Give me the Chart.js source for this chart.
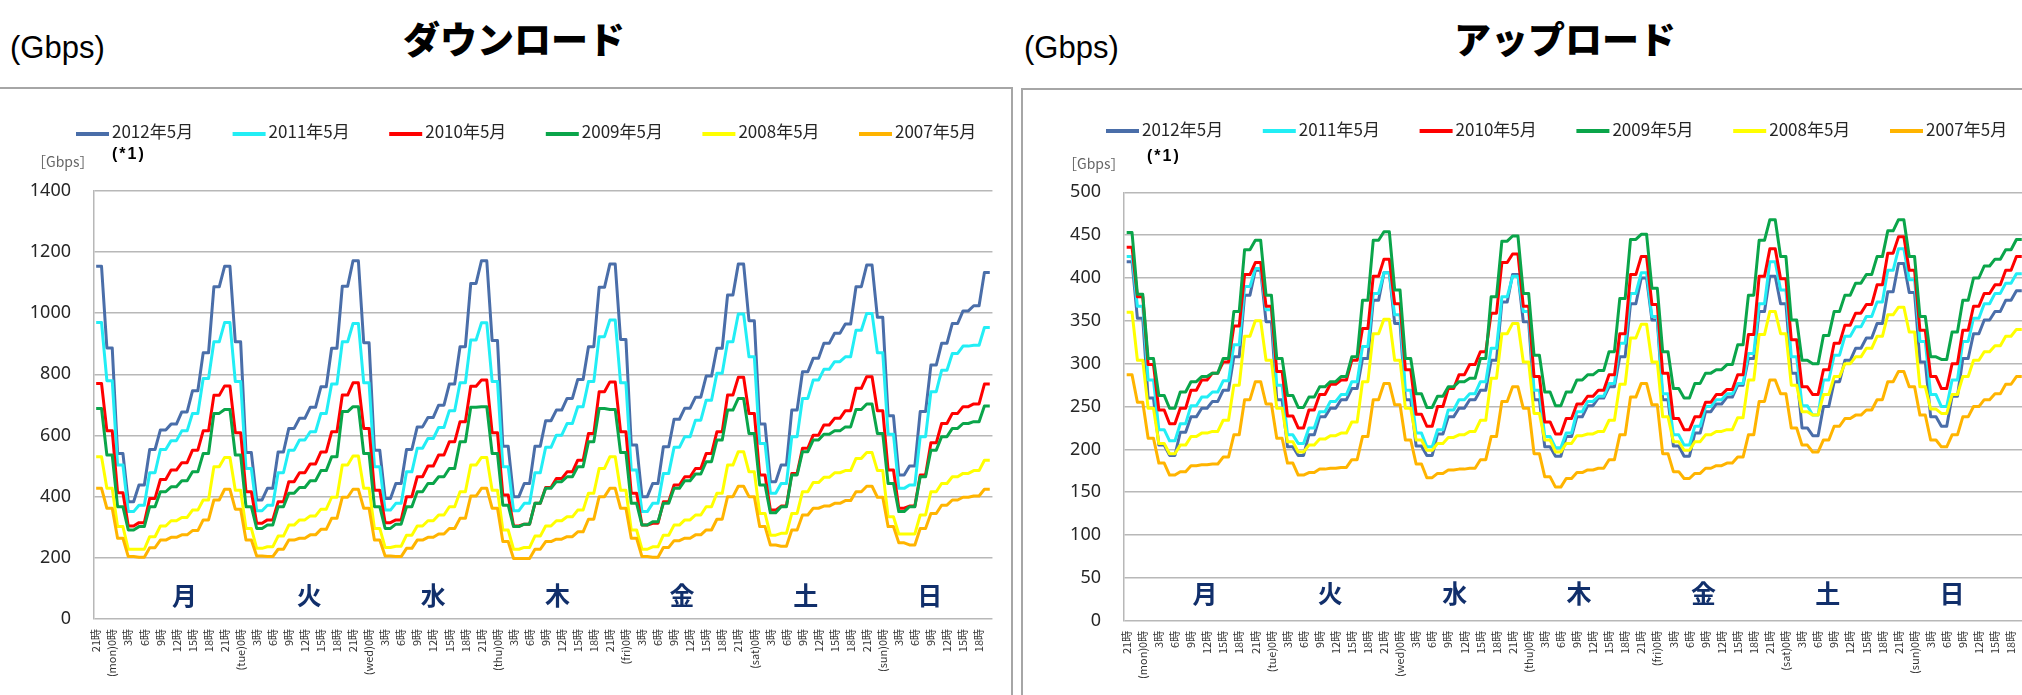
<!DOCTYPE html>
<html><head><meta charset="utf-8">
<script src="https://cdn.jsdelivr.net/npm/chart.js@4.4.1/dist/chart.umd.min.js"></script>
<style>
html,body{margin:0;padding:0;width:2022px;height:695px;overflow:hidden;background:#fff;}
body{position:relative;}
.t{position:absolute;white-space:nowrap;line-height:1;color:#000;}
.ln{position:absolute;background:#a6a6a6;}
canvas{position:absolute;top:0;}
</style></head><body>
<div class="t" style="left:10px;top:30px;font:31px 'Liberation Sans',Arial,sans-serif;">(Gbps)</div>
<div class="t" style="left:314px;width:400px;text-align:center;top:11px;font:900 37px 'Noto Sans CJK JP',sans-serif;">ダウンロード</div>
<div class="t" style="left:1024px;top:30px;font:31px 'Liberation Sans',Arial,sans-serif;">(Gbps)</div>
<div class="t" style="left:1365px;width:400px;text-align:center;top:11px;font:900 37px 'Noto Sans CJK JP',sans-serif;">アップロード</div>
<div class="ln" style="left:0;top:87px;width:1013px;height:2px;"></div>
<div class="ln" style="left:1011px;top:87px;width:2px;height:608px;"></div>
<div class="ln" style="left:1021px;top:88px;width:1001px;height:2px;"></div>
<div class="ln" style="left:1021px;top:88px;width:2px;height:607px;"></div>
<canvas id="cDown" width="1013" height="695" style="left:0;"></canvas>
<canvas id="cUp" width="1032" height="695" style="left:1013px;"></canvas>
<div class="t" style="left:112px;top:145px;font:bold 16px 'Liberation Sans',Arial,sans-serif;letter-spacing:2px;">(*1)</div>
<div class="t" style="left:1147px;top:147px;font:bold 16px 'Liberation Sans',Arial,sans-serif;letter-spacing:2px;">(*1)</div>
<div class="t" style="left:32px;top:151px;font:14px 'Noto Sans CJK JP',sans-serif;color:#666;">［Gbps］</div>
<div class="t" style="left:1063px;top:153px;font:14px 'Noto Sans CJK JP',sans-serif;color:#666;">［Gbps］</div>
<script>
// ---------- data ----------
const seriesNames = ['2012年5月', '2011年5月', '2010年5月', '2009年5月', '2008年5月', '2007年5月'];
const seriesColors = ['#4a6ea9', '#22eef5', '#ff0000', '#0aa54a', '#ffff00', '#ffb400'];
const dayNames = ['月', '火', '水', '木', '金', '土', '日'];
const dayTags = ['mon', 'tue', 'wed', 'thu', 'fri', 'sat', 'sun'];
// hourly categories: from 21時 (day before mon) to 20時 sun
const hourOfIndex = [];
for (let i = 0; i < 168; i++) hourOfIndex.push((21 + i) % 24);
const categories = hourOfIndex.map((h, i) => {
  if (h === 0) return '(' + dayTags[Math.floor((i - 3) / 24)] + ')0時';
  return h + '時';
});
const tickLabels = categories.map((c, i) => (i % 3 === 0 ? c : ''));

// Download (Gbps)
const down2012 = [
1153,1153,886,886,541,541,383,383,438,438,554,554,618,618,637,637,677,677,746,746,870,870,1086,1086,
1153,1153,906,906,544,544,389,389,427,427,546,546,623,623,656,656,692,692,759,759,885,885,1088,1088,
1171,1171,903,903,552,552,394,394,443,443,554,554,628,628,659,659,699,699,768,768,890,890,1097,1097,
1171,1171,910,910,565,565,400,400,443,443,565,565,648,648,683,683,721,721,783,783,890,890,1084,1084,
1160,1160,914,914,569,569,400,400,443,443,563,563,653,653,689,689,725,725,794,794,885,885,1059,1059,
1160,1160,975,975,637,637,449,449,503,503,683,683,808,808,852,852,901,901,934,934,964,964,1086,1086,
1157,1157,986,986,664,664,471,471,500,500,678,678,830,830,901,901,966,966,1007,1007,1024,1024,1133,1133];
const down2011 = [
969,969,779,779,503,503,351,351,372,372,478,478,554,554,583,583,615,615,672,672,786,786,906,906,
969,969,776,776,492,492,354,354,372,372,478,478,552,552,585,585,612,612,672,672,768,768,906,906,
966,966,772,772,498,498,356,356,378,378,481,481,558,558,590,590,626,626,681,681,772,772,912,912,
968,968,776,776,498,498,354,354,378,378,478,478,561,561,601,601,639,639,694,694,776,776,923,923,
977,977,772,772,487,487,351,351,378,378,476,476,561,561,596,596,650,650,715,715,803,803,906,906,
997,997,857,857,574,574,411,411,443,443,596,596,721,721,781,781,816,816,841,841,857,857,944,944,
999,999,870,870,604,604,427,427,438,438,596,596,743,743,813,813,868,868,892,892,895,895,953,953];
const down2010 = [
770,770,615,615,413,413,304,304,315,315,394,394,456,456,487,487,511,511,552,552,615,615,731,731,
762,762,609,609,416,416,313,313,324,324,383,383,449,449,478,478,507,507,546,546,612,612,732,732,
772,772,623,623,421,421,315,315,324,324,400,400,465,465,500,500,536,536,579,579,645,645,761,761,
781,781,609,609,405,405,304,304,310,310,378,378,430,430,459,459,481,481,519,519,606,606,743,743,
775,775,612,612,411,411,307,307,313,313,383,383,438,438,465,465,492,492,541,541,612,612,732,732,
790,790,672,672,471,471,356,356,369,369,476,476,558,558,601,601,634,634,656,656,681,681,754,754,
792,792,681,681,487,487,362,362,369,369,471,471,576,576,639,639,672,672,694,694,703,703,768,768];
const down2009 = [
688,688,536,536,367,367,291,291,302,302,367,367,416,416,432,432,452,452,481,481,541,541,672,672,
685,685,536,536,367,367,296,296,307,307,367,367,411,411,430,430,452,452,485,485,530,530,678,678,
694,694,541,541,367,367,296,296,310,310,367,367,416,416,443,443,465,465,492,492,579,579,692,692,
694,694,541,541,372,372,302,302,310,310,378,378,427,427,449,449,465,465,498,498,579,579,688,688,
685,685,544,544,378,378,307,307,318,318,378,378,427,427,452,452,474,474,514,514,585,585,683,683,
721,721,606,606,438,438,347,347,367,367,471,471,547,547,585,585,604,604,615,615,628,628,685,685,
703,703,606,606,443,443,351,351,367,367,465,465,552,552,596,596,623,623,639,639,645,645,696,696];
const down2008 = [
530,530,427,427,302,302,228,228,228,228,269,269,304,304,321,321,332,332,356,356,389,389,498,498,
528,528,421,421,296,296,231,231,236,236,271,271,307,307,324,324,337,337,359,359,398,398,503,503,
533,533,427,427,296,296,234,234,238,238,274,274,304,304,321,321,340,340,367,367,416,416,503,503,
528,528,421,421,291,291,228,228,234,234,271,271,304,304,321,321,334,334,356,356,411,411,492,492,
530,530,421,421,291,291,228,228,236,236,274,274,307,307,324,324,340,340,367,367,411,411,503,503,
547,547,481,481,345,345,274,274,280,280,345,345,416,416,446,446,463,463,478,478,485,485,525,525,
544,544,485,485,334,334,278,278,278,278,340,340,416,416,443,443,465,465,476,476,485,485,519,519];
const down2007 = [
427,427,362,362,264,264,204,204,202,202,233,233,258,258,267,267,275,275,289,289,324,324,389,389,
424,424,359,359,258,258,206,206,204,204,228,228,258,258,264,264,275,275,293,293,329,329,398,398,
424,424,362,362,258,258,206,206,204,204,231,231,258,258,267,267,278,278,296,296,329,329,402,402,
427,427,362,362,253,253,198,198,198,198,228,228,253,253,261,261,269,269,285,285,326,326,400,400,
427,427,362,362,264,264,204,204,202,202,234,234,256,256,264,264,275,275,291,291,326,326,400,400,
434,434,400,400,302,302,242,242,238,238,291,291,340,340,362,362,369,369,378,378,387,387,416,416,
434,434,398,398,302,302,249,249,242,242,296,296,345,345,372,372,389,389,398,398,402,402,424,424];

// Upload (Gbps)
const up2012 = [
419,419,353,353,260,260,205,205,193,193,220,220,238,238,248,248,256,256,269,269,308,308,380,380,
409,409,349,349,258,258,203,203,193,193,217,217,238,238,248,248,258,258,271,271,306,306,374,374,
406,406,347,347,258,258,204,204,193,193,218,218,238,238,248,248,258,258,269,269,304,304,372,372,
404,404,349,349,258,258,203,203,192,192,215,215,238,238,251,251,260,260,273,273,308,308,370,370,
400,400,351,351,258,258,204,204,192,192,219,219,244,244,253,253,261,261,275,275,306,306,361,361,
402,402,370,370,289,289,225,225,216,216,250,250,279,279,304,304,318,318,330,330,347,347,384,384,
417,417,383,383,302,302,238,238,227,227,262,262,306,306,335,335,351,351,361,361,374,374,385,385];
const up2011 = [
425,425,367,367,281,281,223,223,210,210,230,230,251,251,261,261,267,267,280,280,322,322,390,390,
411,411,363,363,275,275,217,217,207,207,225,225,244,244,256,256,264,264,279,279,320,320,382,382,
406,406,357,357,269,269,219,219,203,203,223,223,246,246,258,258,265,265,279,279,318,318,378,378,
402,402,361,361,269,269,215,215,202,202,219,219,244,244,256,256,262,262,277,277,324,324,382,382,
406,406,355,355,265,265,217,217,205,205,227,227,250,250,258,258,265,265,277,277,312,312,370,370,
419,419,386,386,308,308,251,251,240,240,281,281,310,310,332,332,343,343,355,355,372,372,409,409,
434,434,398,398,326,326,264,264,250,250,281,281,326,326,353,353,370,370,382,382,394,394,405,405];
const up2010 = [
436,436,378,378,299,299,246,246,230,230,248,248,269,269,281,281,289,289,302,302,344,344,404,404,
418,418,367,367,291,291,239,239,225,225,246,246,264,264,276,276,281,281,304,304,341,341,402,402,
422,422,370,370,293,293,241,241,227,227,250,250,271,271,287,287,299,299,314,314,359,359,418,418,
428,428,367,367,285,285,232,232,218,218,236,236,253,253,262,262,269,269,287,287,335,335,404,404,
425,425,369,369,289,289,236,236,223,223,238,238,255,255,264,264,270,270,287,287,334,334,402,402,
434,434,399,399,328,328,273,273,264,264,293,293,324,324,345,345,359,359,369,369,392,392,429,429,
448,448,409,409,339,339,285,285,271,271,300,300,339,339,367,367,382,382,392,392,409,409,425,425];
const up2009 = [
453,453,381,381,306,306,263,263,248,248,267,267,279,279,285,285,289,289,306,306,361,361,433,433,
444,444,380,380,306,306,263,263,249,249,261,261,273,273,279,279,285,285,308,308,374,374,444,444,
454,454,386,386,306,306,265,265,249,249,262,262,273,273,279,279,283,283,306,306,378,378,443,443,
449,449,382,382,310,310,267,267,251,251,267,267,281,281,287,287,292,292,314,314,376,376,445,445,
451,451,388,388,314,314,271,271,260,260,277,277,289,289,293,293,299,299,322,322,380,380,444,444,
468,468,425,425,351,351,304,304,300,300,333,333,361,361,380,380,394,394,404,404,425,425,455,455,
468,468,425,425,355,355,308,308,305,305,337,337,374,374,400,400,414,414,422,422,433,433,445,445];
const up2008 = [
360,360,304,304,248,248,207,207,195,195,205,205,215,215,219,219,221,221,234,234,275,275,332,332,
350,350,304,304,248,248,209,209,197,197,205,205,212,212,216,216,219,219,232,232,279,279,335,335,
352,352,304,304,248,248,211,211,199,199,207,207,214,214,217,217,221,221,234,234,283,283,335,335,
347,347,302,302,242,242,211,211,197,197,207,207,216,216,218,218,221,221,234,234,276,276,330,330,
346,346,302,302,238,238,209,209,199,199,209,209,217,217,221,221,223,223,237,237,281,281,334,334,
361,361,335,335,275,275,244,244,240,240,264,264,285,285,300,300,308,308,318,318,332,332,357,357,
366,366,337,337,273,273,247,247,242,242,264,264,285,285,304,304,314,314,321,321,332,332,340,340];
const up2007 = [
287,287,255,255,213,213,184,184,170,170,174,174,181,181,182,182,183,183,191,191,217,217,258,258,
279,279,253,253,213,213,184,184,170,170,173,173,177,177,178,178,179,179,188,188,215,215,258,258,
277,277,252,252,211,211,183,183,167,167,172,172,176,176,177,177,178,178,188,188,215,215,256,256,
273,273,248,248,195,195,168,168,156,156,166,166,173,173,176,176,178,178,188,188,217,217,261,261,
277,277,252,252,195,195,174,174,166,166,172,172,178,178,181,181,184,184,191,191,217,217,256,256,
281,281,265,265,225,225,205,205,197,197,211,211,227,227,236,236,240,240,246,246,258,258,279,279,
291,291,273,273,240,240,211,211,203,203,217,217,238,238,250,250,258,258,265,265,276,276,285,285];

const downSeries = [down2012, down2011, down2010, down2009, down2008, down2007];
const upSeries = [up2012, up2011, up2010, up2009, up2008, up2007];

// ---------- plugins ----------
const legendPlugin = {
  id: 'customLegend',
  afterDraw(chart, args, o) {
    const ctx = chart.ctx;
    ctx.save();
    chart.data.datasets.forEach((ds, i) => {
      const x = o.x + i * o.step;
      ctx.strokeStyle = ds.borderColor;
      ctx.lineWidth = 4;
      ctx.lineCap = 'butt';
      ctx.beginPath(); ctx.moveTo(x, o.y); ctx.lineTo(x + 33, o.y); ctx.stroke();
      ctx.fillStyle = '#262626';
      ctx.font = "17px 'Noto Sans CJK JP'";
      ctx.textBaseline = 'middle';
      ctx.textAlign = 'left';
      ctx.fillText(ds.label, x + 36, o.ty);
    });
    ctx.restore();
  }
};
const dayPlugin = {
  id: 'dayNames',
  afterDraw(chart, args, o) {
    const ctx = chart.ctx, xs = chart.scales.x;
    ctx.save();
    ctx.fillStyle = '#112f6b';
    ctx.font = "bold 25px 'Noto Sans CJK JP'";
    ctx.textAlign = 'center';
    ctx.textBaseline = 'middle';
    dayNames.forEach((d, k) => ctx.fillText(d, xs.getPixelForValue(o.pos[k]), o.y));
    ctx.restore();
  }
};

function build(id, values, cfg) {
  return new Chart(document.getElementById(id), {
    type: 'line',
    data: {
      labels: categories,
      datasets: seriesNames.map((n, i) => ({
        label: n, data: values[i], borderColor: seriesColors[i], backgroundColor: seriesColors[i],
        borderWidth: 3, pointRadius: 0, tension: 0, fill: false, order: 5 - i, borderJoinStyle: 'round'
      }))
    },
    options: {
      responsive: false, animation: false,
      layout: { padding: { left: 0, right: cfg.padR, top: cfg.padT, bottom: 0 } },
      plugins: {
        legend: { display: false }, tooltip: { enabled: false },
        customLegend: cfg.legend, dayNames: cfg.days
      },
      scales: {
        x: {
          type: 'category', offset: true,
          grid: { display: false, drawTicks: false }, border: { display: false },
          ticks: {
            autoSkip: false, maxRotation: 90, minRotation: 90, padding: 10,
            color: '#333333', font: { family: "'Noto Sans CJK JP'", size: 11 },
            callback: (v, i) => tickLabels[i]
          },
          afterFit: s => { s.height = cfg.xH; }
        },
        y: {
          min: 0, max: cfg.max,
          ticks: { stepSize: cfg.step, padding: cfg.yPad, color: '#262626', font: { family: "'Noto Sans'", size: 18 },
                   callback: v => String(v) },
          grid: { color: '#b8b8b8', lineWidth: 1.5, drawTicks: false },
          border: { display: true, color: '#b8b8b8', width: 1.5 },
          afterFit: s => { s.width = cfg.yW; }
        }
      }
    },
    plugins: [legendPlugin, dayPlugin]
  });
}

build('cDown', downSeries, {
  max: 1400, step: 200, padR: 8, padT: 190.7, xH: 76, yW: 93.5, yPad: 22.5,
  legend: { x: 76, step: 156.6, y: 134, ty: 132 },
  days: { pos: [16.5, 39.8, 63, 86.2, 109.5, 132.6, 155.8], y: 595 }
});
build('cUp', upSeries, {
  max: 500, step: 50, padR: 9, padT: 192.3, xH: 74.2, yW: 111, yPad: 23,
  legend: { x: 93, step: 156.8, y: 131, ty: 130 },
  days: { pos: [14.6, 38, 61.2, 84.4, 107.6, 130.8, 154], y: 593 }
});
</script>
</body></html>
